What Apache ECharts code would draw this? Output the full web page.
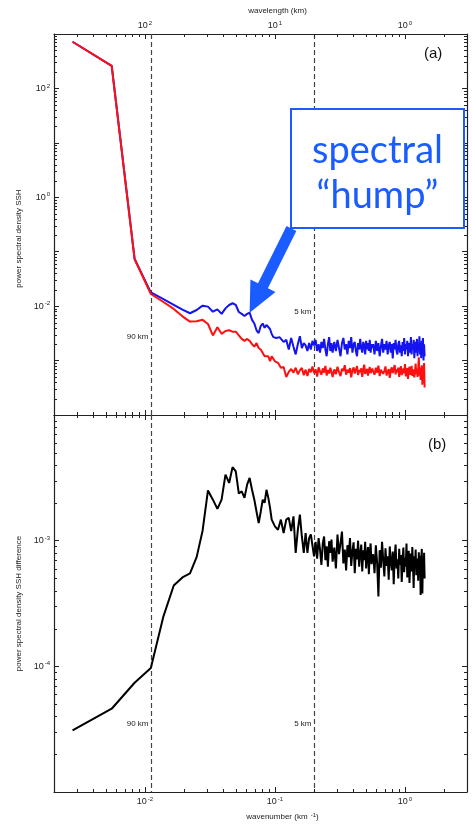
<!DOCTYPE html>
<html>
<head>
<meta charset="utf-8">
<script src="https://cdn.jsdelivr.net/npm/echarts@6.0.0/dist/echarts.min.js"></script>
<style>
  html, body { margin: 0; padding: 0; background: #fff; }
  #chart { width: 472px; height: 826px; }
</style>
</head>
<body>
<div id="chart"></div>
<script>
// wavenumber grid: harmonic number of a 360 km domain
var fundamentalWavenumber = 1 / 360;
var harmonic = [
  1, 2, 3, 4, 5, 6, 7, 8, 9, 10, 11, 12, 13, 14, 15, 16, 17, 18, 19, 20,
  21, 22, 23, 24, 25, 26, 27, 28, 29, 30, 31, 32, 33, 34, 35, 36, 37, 38, 39, 40,
  42, 44, 46, 48, 50, 52, 54, 56, 58, 60, 62, 64, 66, 68, 70, 72, 74, 76, 78, 80,
  82, 84, 86, 88, 90, 92, 94, 96, 98, 100,
  103, 106, 109, 112, 115, 118, 121, 124, 127, 130, 133, 136, 139, 142, 145, 148, 151,
  154, 157, 160, 163, 166, 169, 172, 175, 178, 181, 184, 187, 190, 193, 196, 199, 202,
  205, 210, 215, 220, 225, 230, 235, 240, 245, 250, 255, 260, 265, 270, 275, 280, 285,
  290, 295, 300, 305, 310, 315, 320, 325, 330, 335, 340, 345, 350, 355, 360, 365, 370,
  375, 380, 385, 390, 395, 400, 405, 410, 415, 420, 425, 430, 435, 440, 445, 450, 455,
  460, 465, 470, 475, 480, 485, 490, 495, 500, 505, 510
];

// panel (a), blue spectrum
var psdBlue = [
  720, 260, 0.0735, 0.0179, 0.0135, 0.0106, 0.0086, 0.0074, 0.0085, 0.0102,
  0.0098, 0.0079, 0.0087, 0.0072, 0.0091, 0.0105, 0.0113, 0.0105, 0.0078, 0.0072,
  0.0066, 0.0072, 0.0076, 0.0056, 0.0048, 0.0036, 0.0032, 0.0043, 0.0048, 0.0040,
  0.0045, 0.0047, 0.0038, 0.0031, 0.0027, 0.0026, 0.0026, 0.0027, 0.0027, 0.0025,
  2.2e-3, 2.4e-3, 1.6e-3, 2.6e-3, 1.8e-3, 1.3e-3, 2.0e-3, 2.8e-3, 1.7e-3, 2.1e-3,
  1.9e-3, 1.5e-3, 2.1e-3, 1.6e-3, 2.3e-3, 1.9e-3, 2.4e-3, 1.5e-3, 2.0e-3, 1.4e-3,
  2.2e-3, 1.7e-3, 2.5e-3, 1.6e-3, 1.2e-3, 2.0e-3, 2.7e-3, 1.5e-3, 2.1e-3, 1.4e-3,
  2.2e-3, 1.5e-3, 2.4e-3, 1.7e-3, 1.2e-3, 2.1e-3, 2.6e-3, 1.6e-3, 2.0e-3, 1.3e-3,
  2.3e-3, 1.7e-3, 2.7e-3, 1.4e-3, 2.0e-3, 2.2e-3, 1.5e-3, 1.2e-3, 2.1e-3, 1.6e-3,
  2.5e-3, 1.7e-3, 1.4e-3, 2.2e-3, 1.9e-3, 1.3e-3, 2.3e-3, 1.6e-3, 2.1e-3, 1.5e-3,
  2.4e-3, 1.4e-3, 2.0e-3, 1.7e-3,
  2.0e-3, 1.3e-3, 2.3e-3, 1.5e-3, 2.1e-3, 1.2e-3, 1.8e-3, 2.5e-3, 1.4e-3, 2.0e-3,
  1.6e-3, 2.3e-3, 1.3e-3, 1.9e-3, 2.2e-3, 1.4e-3, 2.0e-3, 1.1e-3, 2.1e-3, 1.6e-3,
  2.4e-3, 1.5e-3, 1.3e-3, 2.0e-3, 2.3e-3, 1.4e-3, 1.9e-3, 1.2e-3, 2.2e-3, 1.5e-3,
  2.6e-3, 1.3e-3, 2.0e-3, 1.6e-3, 2.3e-3, 1.2e-3, 1.9e-3, 2.1e-3, 1.4e-3, 2.7e-3,
  1.3e-3, 2.0e-3, 1.6e-3, 2.4e-3, 1.1e-3, 1.9e-3, 2.2e-3, 1.4e-3, 2.5e-3, 1.2e-3,
  2.0e-3, 1.5e-3, 2.8e-3, 1.3e-3, 2.1e-3, 1.1e-3, 2.3e-3, 1.4e-3, 2.6e-3, 1.0e-3,
  2.0e-3, 1.2e-3
];

// panel (a), red spectrum
var psdRed = [
  720, 260, 0.0735, 0.0167, 0.0119, 0.0089, 0.0065, 0.0052, 0.0053, 0.0056,
  0.0047, 0.0029, 0.0041, 0.0031, 0.0035, 0.0036, 0.0034, 0.0034, 0.0029, 0.0025,
  0.0023, 0.0025, 0.0023, 0.0020, 0.0018, 0.0021, 0.0017, 0.0016, 0.0016, 0.0012,
  0.0013, 0.0012, 0.00098, 0.0012, 0.0013, 0.00097, 0.00093, 0.00091, 0.00089, 0.00074,
  7.6e-4, 5.0e-4, 6.2e-4, 7.0e-4, 6.0e-4, 7.4e-4, 5.6e-4, 6.6e-4, 7.3e-4, 5.4e-4,
  6.8e-4, 5.2e-4, 7.0e-4, 6.1e-4, 7.8e-4, 5.9e-4, 6.9e-4, 5.1e-4, 7.5e-4, 6.3e-4,
  5.5e-4, 7.2e-4, 6.0e-4, 8.0e-4, 5.3e-4, 6.7e-4, 5.8e-4, 7.4e-4, 6.2e-4, 5.0e-4,
  6.9e-4, 5.6e-4, 7.7e-4, 6.1e-4, 5.2e-4, 7.1e-4, 6.4e-4, 8.2e-4, 5.5e-4, 6.8e-4,
  6.0e-4, 7.3e-4, 4.9e-4, 6.6e-4, 7.5e-4, 5.8e-4, 6.3e-4, 7.9e-4, 5.4e-4, 6.7e-4,
  6.1e-4, 7.2e-4, 5.0e-4, 6.9e-4, 8.4e-4, 5.7e-4, 6.4e-4, 7.0e-4, 5.3e-4, 6.6e-4,
  7.6e-4, 5.9e-4, 6.2e-4, 7.1e-4,
  6.4e-4, 5.5e-4, 7.4e-4, 6.0e-4, 8.1e-4, 5.2e-4, 6.8e-4, 7.2e-4, 5.7e-4, 6.5e-4,
  7.8e-4, 5.3e-4, 6.2e-4, 7.0e-4, 4.8e-4, 6.6e-4, 7.5e-4, 5.9e-4, 6.3e-4, 8.3e-4,
  5.6e-4, 6.9e-4, 6.1e-4, 7.4e-4, 5.0e-4, 6.7e-4, 7.9e-4, 5.4e-4, 6.4e-4, 7.1e-4,
  5.8e-4, 8.6e-4, 5.1e-4, 6.5e-4, 7.3e-4, 4.6e-4, 6.8e-4, 7.7e-4, 5.5e-4, 6.2e-4,
  8.0e-4, 5.2e-4, 6.9e-4, 7.5e-4, 4.9e-4, 6.4e-4, 8.8e-4, 5.6e-4, 7.1e-4, 5.0e-4,
  6.6e-4, 11.5e-4, 5.3e-4, 7.4e-4, 4.4e-4, 6.8e-4, 8.2e-4, 3.6e-4, 7.6e-4, 5.1e-4,
  9.0e-4, 3.2e-4
];

// panel (b), difference spectrum
var psdDiff = [
  3.1e-5, 4.6e-5, 7.4e-5, 9.7e-5, 2.5e-4, 4.4e-4, 5.1e-4, 5.5e-4, 7.4e-4, 1.2e-3,
  2.51e-3, 2.12e-3, 1.79e-3, 2.12e-3, 3.35e-3, 2.88e-3, 3.85e-3, 3.56e-3, 2.37e-3, 2.47e-3,
  2.19e-3, 2.79e-3, 3.16e-3, 2.54e-3, 2.12e-3, 1.70e-3, 1.38e-3, 1.70e-3, 2.12e-3, 2.00e-3,
  2.54e-3, 2.20e-3, 1.83e-3, 1.47e-3, 1.42e-3, 1.30e-3, 1.27e-3, 1.22e-3, 1.19e-3, 1.47e-3,
  1.15e-3, 1.47e-3, 1.52e-3, 1.19e-3, 1.56e-3, 0.80e-3, 1.22e-3, 1.61e-3, 1.08e-3, 0.80e-3,
  1.15e-3, 0.80e-3, 1.05e-3, 1.12e-3, 1.12e-3, 0.75e-3, 0.98e-3, 0.72e-3, 1.05e-3, 0.85e-3,
  0.64e-3, 0.95e-3, 1.08e-3, 0.70e-3, 0.90e-3, 0.62e-3, 0.99e-3, 0.80e-3, 1.02e-3, 0.68e-3,
  0.88e-3, 0.60e-3, 1.12e-3, 0.78e-3, 0.95e-3, 1.18e-3, 0.66e-3, 0.85e-3, 0.58e-3, 0.92e-3,
  0.74e-3, 1.05e-3, 0.63e-3, 0.82e-3, 0.97e-3, 0.55e-3, 0.86e-3, 0.71e-3, 1.00e-3, 0.62e-3,
  0.79e-3, 0.93e-3, 0.57e-3, 0.84e-3, 0.70e-3, 0.98e-3, 0.60e-3, 0.76e-3, 0.89e-3, 0.54e-3,
  0.81e-3, 0.95e-3, 0.65e-3, 0.74e-3,
  0.78e-3, 0.55e-3, 0.92e-3, 0.66e-3, 0.36e-3, 0.84e-3, 0.61e-3, 0.98e-3, 0.70e-3, 0.52e-3,
  0.87e-3, 0.63e-3, 0.75e-3, 0.49e-3, 0.90e-3, 0.68e-3, 0.58e-3, 0.82e-3, 0.45e-3, 0.74e-3,
  0.93e-3, 0.60e-3, 0.71e-3, 0.50e-3, 0.86e-3, 0.64e-3, 0.77e-3, 0.47e-3, 0.69e-3, 0.88e-3,
  0.56e-3, 0.73e-3, 0.62e-3, 0.95e-3, 0.51e-3, 0.70e-3, 0.83e-3, 0.46e-3, 0.66e-3, 0.79e-3,
  0.57e-3, 0.89e-3, 0.64e-3, 0.42e-3, 0.75e-3, 0.60e-3, 0.85e-3, 0.53e-3, 0.72e-3, 0.67e-3,
  0.48e-3, 0.81e-3, 0.58e-3, 0.76e-3, 0.37e-3, 0.70e-3, 0.86e-3, 0.38e-3, 0.74e-3, 0.55e-3,
  0.80e-3, 0.50e-3
];

// reference wavelengths (km) marked by dashed lines, and where their labels sit
var refWavelength = [90, 5];
var refLabel = ['90 km', '5 km'];
var refLabelYA = [2.7e-3, 7.9e-3];
var refLabelYB = [3.5e-5, 3.5e-5];

// tick label exponents that carry text
var xLabelExp = [-2, -1, 0];
var yLabelExpA = [2, 0, -2];
var yLabelExpB = [-3, -4];

// minor tick positions
var xMinorTicks = [0.003, 0.004, 0.005, 0.006, 0.007, 0.008, 0.009,
  0.02, 0.03, 0.04, 0.05, 0.06, 0.07, 0.08, 0.09,
  0.2, 0.3, 0.4, 0.5, 0.6, 0.7, 0.8, 0.9, 2];
var minorMultipliers = [2, 3, 4, 5, 6, 7, 8, 9];
var yDecadesA = [1e-4, 1e-3, 1e-2, 1e-1, 1, 10, 100];
var yDecadesB = [1e-5, 1e-4, 1e-3];

var FONT = 'Liberation Sans';
var INK = '#222';

var toPoints = function(values) {
    return values.map(function(v, i) { return [harmonic[i] * fundamentalWavenumber, v]; });
};

var expOf = function(v) {
    var l = Math.log10(v);
    var e = Math.round(l);
    return Math.abs(l - e) < 1e-6 ? e : null;
};

var powerLabel = function(keep, flip) {
    return function(v) {
        var e = expOf(v);
        if (e === null || keep.indexOf(e) < 0) return '';
        return '{b|10}{s|' + (flip ? -e : e) + '}';
    };
};

var richPow = {
    b: {fontFamily: FONT, fontSize: 9, color: INK, lineHeight: 11},
    s: {fontFamily: FONT, fontSize: 6, color: INK, lineHeight: 6, verticalAlign: 'top', padding: [0, 0, 0, 1]}
};

var baseAxis = function(extra) {
    var ax = {
        type: 'log',
        logBase: 10,
        axisLine: {show: true, lineStyle: {color: INK, width: 1.2}},
        axisTick: {show: true, inside: true, length: 5, lineStyle: {color: INK, width: 1}},
        axisLabel: {show: false},
        splitLine: {show: false},
        minorTick: {show: false}
    };
    return Object.assign(ax, extra);
};

var xRange = {min: 0.002, max: 3};

var xMinorData = xMinorTicks.map(function(v) { return [v, 1e-3]; });
var yMinorData = function(decades) {
    var out = [];
    decades.forEach(function(d) {
        minorMultipliers.forEach(function(m) { out.push([0.01, d * m]); });
    });
    return out;
};

var minorTickRender = function(kind) {
    return function(params, api) {
        var cs = params.coordSys;
        var p = api.coord([api.value(0), api.value(1)]);
        var style = {stroke: INK, lineWidth: 1};
        if (kind === 'x') {
            var x = Math.round(p[0]) + 0.5;
            var yb = cs.y + cs.height;
            return {type: 'group', children: [
                {type: 'line', shape: {x1: x, y1: yb, x2: x, y2: yb - 3}, style: style},
                {type: 'line', shape: {x1: x, y1: cs.y, x2: x, y2: cs.y + 3}, style: style}
            ]};
        }
        var y = Math.round(p[1]) + 0.5;
        var xr = cs.x + cs.width;
        return {type: 'group', children: [
            {type: 'line', shape: {x1: cs.x, y1: y, x2: cs.x + 3, y2: y}, style: style},
            {type: 'line', shape: {x1: xr, y1: y, x2: xr - 3, y2: y}, style: style}
        ]};
    };
};

var tickSeries = function(xi, yi, data, kind) {
    return {
        type: 'custom', xAxisIndex: xi, yAxisIndex: yi, silent: true, clip: false, z: 5,
        renderItem: minorTickRender(kind), data: data
    };
};

// dashed reference lines with their labels, placed through the axes
var refLineSeries = function(xi, yi, labelY) {
    return {
        type: 'custom', xAxisIndex: xi, yAxisIndex: yi, silent: true, clip: false, z: 2,
        data: refWavelength.map(function(w, i) { return [1 / w, labelY[i]]; }),
        renderItem: function(params, api) {
            var cs = params.coordSys;
            var p = api.coord([api.value(0), api.value(1)]);
            var x = Math.round(p[0]) + 0.5;
            return {type: 'group', children: [
                {type: 'line', shape: {x1: x, y1: cs.y, x2: x, y2: cs.y + cs.height},
                    style: {stroke: '#444', lineWidth: 1.2, lineDash: [5, 3]}},
                {type: 'text', x: x - 3, y: p[1],
                    style: {text: refLabel[params.dataIndex], fontFamily: FONT, fontSize: 8, fill: INK,
                        align: 'right', verticalAlign: 'middle'}}
            ]};
        }
    };
};

var option = {
    animation: false,
    backgroundColor: '#fff',
    grid: [
        {left: 54, top: 34, width: 413, height: 381},
        {left: 54, top: 415, width: 413, height: 377}
    ],
    xAxis: [
        baseAxis(Object.assign({gridIndex: 0, position: 'bottom'}, xRange)),
        baseAxis(Object.assign({
            gridIndex: 0, position: 'top',
            name: 'wavelength (km)', nameLocation: 'middle', nameGap: 19,
            nameTextStyle: {fontFamily: FONT, fontSize: 8, color: INK, padding: [0, 0, 0, 34]},
            axisLabel: {show: true, margin: 3, formatter: powerLabel(xLabelExp, true), rich: richPow}
        }, xRange)),
        baseAxis(Object.assign({
            gridIndex: 1, position: 'bottom',
            name: '{n|wavenumber (km }{s|-1}{n|)}', nameLocation: 'middle', nameGap: 20,
            nameTextStyle: {padding: [0, 0, 0, 44], rich: {
                n: {fontFamily: FONT, fontSize: 8, color: INK, lineHeight: 10},
                s: {fontFamily: FONT, fontSize: 6, color: INK, lineHeight: 6, verticalAlign: 'top', padding: [0, 0, 0, 1]}
            }},
            axisLabel: {show: true, margin: 4, formatter: powerLabel(xLabelExp, false), rich: richPow}
        }, xRange)),
        baseAxis(Object.assign({gridIndex: 1, position: 'top'}, xRange))
    ],
    yAxis: [
        baseAxis({
            gridIndex: 0, position: 'left', min: 1e-4, max: 1e3, splitNumber: 7,
            name: 'power spectral density SSH', nameLocation: 'middle', nameGap: 22,
            nameTextStyle: {fontFamily: FONT, fontSize: 8, color: INK, padding: [0, 28, 0, 0]},
            axisLabel: {show: true, margin: 4, formatter: powerLabel(yLabelExpA, false), rich: richPow}
        }),
        baseAxis({gridIndex: 0, position: 'right', min: 1e-4, max: 1e3, splitNumber: 7}),
        baseAxis({
            gridIndex: 1, position: 'left', min: 1e-5, max: 1e-2, splitNumber: 3,
            name: 'power spectral density SSH difference', nameLocation: 'middle', nameGap: 22,
            nameTextStyle: {fontFamily: FONT, fontSize: 8, color: INK},
            axisLabel: {show: true, margin: 4, formatter: powerLabel(yLabelExpB, false), rich: richPow}
        }),
        baseAxis({gridIndex: 1, position: 'right', min: 1e-5, max: 1e-2, splitNumber: 3})
    ],
    series: [
        {
            name: 'blue', type: 'line', xAxisIndex: 0, yAxisIndex: 0,
            data: toPoints(psdBlue), showSymbol: false, symbol: 'none',
            lineStyle: {color: '#1414f0', width: 2}, z: 3
        },
        {
            name: 'red', type: 'line', xAxisIndex: 0, yAxisIndex: 0,
            data: toPoints(psdRed), showSymbol: false, symbol: 'none',
            lineStyle: {color: '#ff1010', width: 2}, z: 4
        },
        {
            name: 'difference', type: 'line', xAxisIndex: 2, yAxisIndex: 2,
            data: toPoints(psdDiff), showSymbol: false, symbol: 'none',
            lineStyle: {color: '#000', width: 2}, z: 3
        },
        refLineSeries(0, 0, refLabelYA),
        refLineSeries(2, 2, refLabelYB),
        tickSeries(0, 0, xMinorData, 'x'),
        tickSeries(0, 0, yMinorData(yDecadesA), 'y'),
        tickSeries(2, 2, xMinorData, 'x'),
        tickSeries(2, 2, yMinorData(yDecadesB), 'y')
    ]
};

var chart = echarts.init(document.getElementById('chart'), null, {renderer: 'canvas'});
chart.setOption(option);

// annotation: boxed label with an arrow pointing at the hump in the blue spectrum
var HUMP = '#1a5cff';
var humpIndex = 22;
var tip = chart.convertToPixel({xAxisIndex: 0, yAxisIndex: 0},
    [harmonic[humpIndex] * fundamentalWavenumber, psdBlue[humpIndex]]);
var dir = [-0.4446, 0.8956];
var nrm = [0.8956, 0.4446];
var at = function(back, side) {
    return [tip[0] - dir[0] * back + nrm[0] * side, tip[1] - dir[1] * back + nrm[1] * side];
};
var arrow = [at(94, 5.5), at(30, 5.5), at(30, 14), [tip[0], tip[1]], at(30, -14), at(30, -5.5), at(94, -5.5)];

chart.setOption({
    graphic: [
        {type: 'text', left: 424, top: 46, z: 20,
            style: {text: '(a)', fontFamily: FONT, fontSize: 15, fill: '#111'}},
        {type: 'text', left: 428, top: 437, z: 20,
            style: {text: '(b)', fontFamily: FONT, fontSize: 15, fill: '#111'}},
        {type: 'polygon', z: 30, shape: {points: arrow}, style: {fill: HUMP}},
        {type: 'rect', z: 31, shape: {x: 291, y: 109, width: 173, height: 119},
            style: {fill: '#fff', stroke: HUMP, lineWidth: 2}},
        {type: 'text', z: 32, x: 377.5, y: 151,
            style: {text: 'spectral', fontFamily: 'Lato', fontSize: 38, fill: HUMP, align: 'center', verticalAlign: 'middle'}},
        {type: 'text', z: 32, x: 377.5, y: 196,
            style: {text: '\u201chump\u201d', fontFamily: 'Lato', fontSize: 38, fill: HUMP, align: 'center', verticalAlign: 'middle'}}
    ]
});
</script>
</body>
</html>
